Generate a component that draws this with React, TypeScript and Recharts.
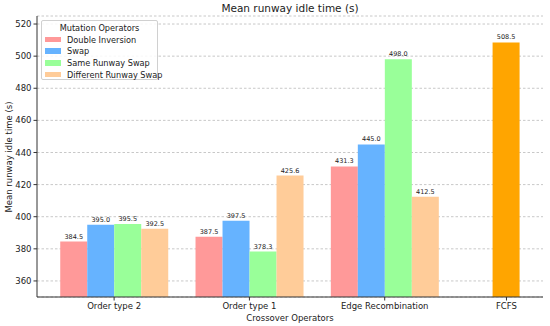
import React from 'react';
import { ComposedChart, Bar, XAxis, YAxis, CartesianGrid, LabelList } from 'recharts';

const categories = ['Order type 2', 'Order type 1', 'Edge Recombination'];
const baselineCategory = 'FCFS';
const seriesNames = ['Double Inversion', 'Swap', 'Same Runway Swap', 'Different Runway Swap'];
const doubleInversion = [384.5, 387.5, 431.3];
const swap = [395.0, 397.5, 445.0];
const sameRunwaySwap = [395.5, 378.3, 498.0];
const differentRunwaySwap = [392.5, 425.6, 412.5];
const fcfsValues = [508.5];
const yTicks = [360, 380, 400, 420, 440, 460, 480, 500, 520];

const seriesColors = ['#ff9999', '#66b3ff', '#99ff99', '#ffcc99'];
const fcfsColor = '#ffa500';
const FONT = '"DejaVu Sans", sans-serif';

// layout constants (axis units)
const BAR_W = 0.2;
const FCFS_POS = 2.9;
const X_DOMAIN: [number, number] = [-0.57, 3.17];
const Y_DOMAIN: [number, number] = [350, 525];

const W = 550;
const H = 326;
const M = { top: 16, right: 7, bottom: 0, left: 0 };
const Y_AXIS_W = 37;
const X_AXIS_H = 29;
const plotW = W - M.left - M.right - Y_AXIS_W;
const barSize = Math.round((BAR_W * plotW) / (X_DOMAIN[1] - X_DOMAIN[0]));

const allSeries = [doubleInversion, swap, sameRunwaySwap, differentRunwaySwap];
const data: any[] = categories.map((c, i) => {
  const row: any = { x: i, name: c };
  seriesNames.forEach((s, k) => (row[s] = allSeries[k][i]));
  row[baselineCategory] = null;
  return row;
});
data.push({ x: FCFS_POS, name: baselineCategory, [baselineCategory]: fcfsValues[0] });

const tickPositions = data.map((d) => d.x);
const tickName = (v: number) => {
  const r = data.find((d) => Math.abs(d.x - v) < 1e-6);
  return r ? r.name : '';
};
const fmt = (v: any) => (v == null ? '' : Number(v).toFixed(1));

const labelStyle = { fontSize: 6.5, fill: '#222', fontFamily: FONT };

export default function App() {
  return (
    <div style={{ position: 'absolute', left: 0, top: 0, width: W, height: H, background: '#fff', fontFamily: FONT }}>
      <ComposedChart width={W} height={H} data={data} margin={M} barGap={0}>
        <CartesianGrid horizontal vertical={false} stroke="#c8c8c8" strokeDasharray="2.5 2" />
        <XAxis
          dataKey="x"
          type="number"
          domain={X_DOMAIN}
          allowDataOverflow
          ticks={tickPositions}
          tickFormatter={tickName}
          height={X_AXIS_H}
          tickSize={3.5}
          stroke="#333"
          tick={{ fontSize: 8.5, fill: '#222', fontFamily: FONT }}
          label={{ value: 'Crossover Operators', position: 'insideBottom', offset: 5, fontSize: 8.5, fill: '#222', fontFamily: FONT }}
        />
        <XAxis xAxisId="f" dataKey="x" type="number" domain={X_DOMAIN} allowDataOverflow hide />
        <XAxis xAxisId="top" orientation="top" dataKey="x" type="number" domain={X_DOMAIN} allowDataOverflow height={0} tick={false} tickLine={false} stroke="#333" />
        <YAxis
          type="number"
          domain={Y_DOMAIN}
          allowDataOverflow
          ticks={yTicks}
          width={Y_AXIS_W}
          tickSize={3.5}
          stroke="#333"
          tick={{ fontSize: 8.5, fill: '#222', fontFamily: FONT }}
        />
        <YAxis yAxisId="r" orientation="right" type="number" domain={Y_DOMAIN} allowDataOverflow width={0} tick={false} tickLine={false} stroke="#333" />
        {seriesNames.map((s, k) => (
          <Bar key={s} dataKey={s} fill={seriesColors[k]} barSize={barSize} isAnimationActive={false}>
            <LabelList dataKey={s} position="top" offset={3} formatter={fmt} style={labelStyle} />
          </Bar>
        ))}
        <Bar xAxisId="f" dataKey={baselineCategory} fill={fcfsColor} barSize={barSize} isAnimationActive={false}>
          <LabelList dataKey={baselineCategory} position="top" offset={3} formatter={fmt} style={labelStyle} />
        </Bar>
      </ComposedChart>

      <div style={{ position: 'absolute', left: 37, width: 506, top: 2, textAlign: 'center', fontSize: 10.5, color: '#222' }}>
        Mean runway idle time (s)
      </div>
      <div
        style={{
          position: 'absolute',
          left: 9,
          top: 156.5,
          transform: 'translate(-50%, -50%) rotate(-90deg)',
          whiteSpace: 'nowrap',
          fontSize: 8.5,
          color: '#222',
        }}
      >
        Mean runway idle time (s)
      </div>
      <div
        style={{
          position: 'absolute',
          left: 41,
          top: 20,
          width: 117,
          height: 60,
          border: '1px solid #d0d0d0',
          borderRadius: 2,
          background: 'rgba(255,255,255,0.85)',
          fontSize: 8.2,
          color: '#222',
          boxSizing: 'border-box',
        }}
      >
        <div style={{ position: 'absolute', left: 0, right: 0, top: 2, textAlign: 'center' }}>Mutation Operators</div>
        {seriesNames.map((s, k) => (
          <div key={s} style={{ position: 'absolute', left: 3, top: 13 + k * 11.7, height: 11, display: 'flex', alignItems: 'center' }}>
            <div style={{ width: 16, height: 5.5, background: seriesColors[k], marginRight: 6 }} />
            <span style={{ whiteSpace: 'nowrap' }}>{s}</span>
          </div>
        ))}
      </div>
    </div>
  );
}
